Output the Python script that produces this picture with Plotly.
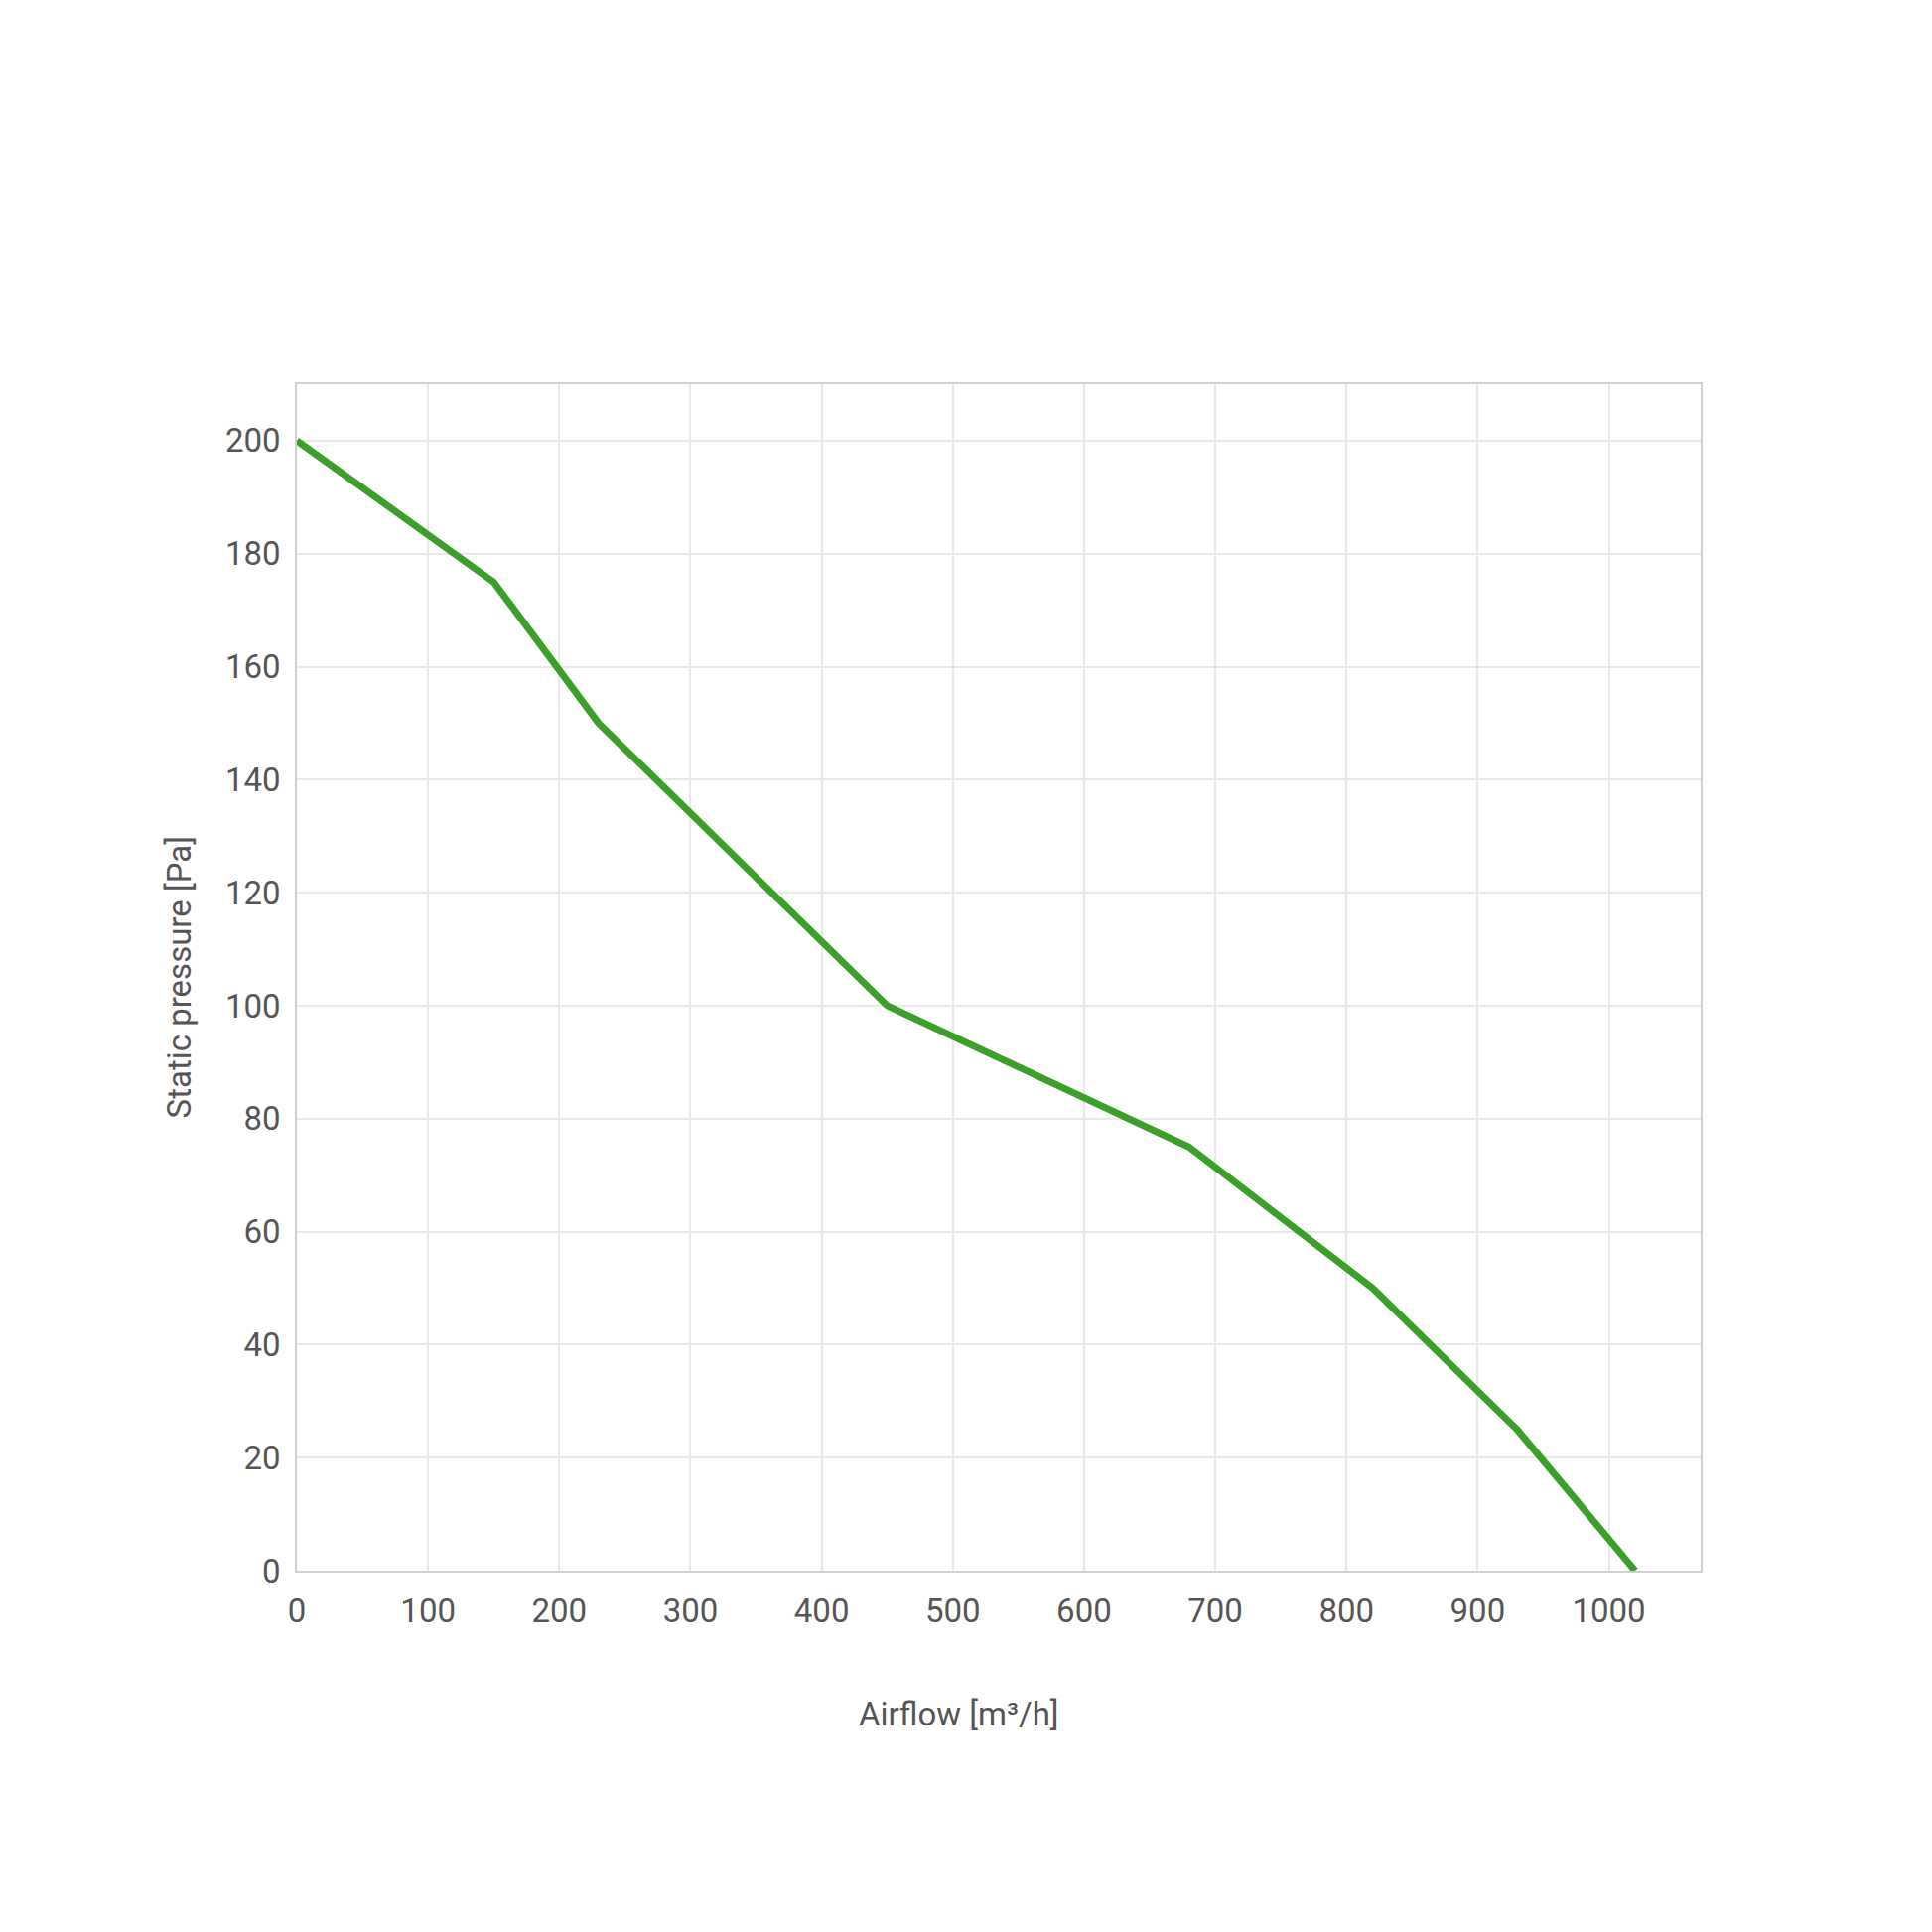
import plotly.graph_objects as go

airflow = [0, 150, 230, 450, 680, 820, 930, 1020]
pressure = [200, 175, 150, 100, 75, 50, 25, 0]

x_ticks = [0, 100, 200, 300, 400, 500, 600, 700, 800, 900, 1000]
y_ticks = [0, 20, 40, 60, 80, 100, 120, 140, 160, 180, 200]

fig = go.Figure()
fig.add_trace(go.Scatter(
    x=airflow, y=pressure, mode="lines",
    line=dict(color="#3c9f2a", width=7),
    showlegend=False,
))

font_family = "Roboto, 'Liberation Sans Narrow', sans-serif"

fig.update_layout(
    width=1946, height=1946,
    paper_bgcolor="white", plot_bgcolor="white",
    margin=dict(l=291, r=241, t=379, b=372),
    font=dict(family=font_family, size=33, color="#555555"),
    xaxis=dict(
        range=[0, 1070], tickvals=x_ticks, ticktext=[str(v) for v in x_ticks],
        showgrid=True, gridcolor="#e8e8e8", gridwidth=2,
        showline=True, linecolor="#d0d0d0", linewidth=1.5, mirror=True,
        zeroline=False, ticks="", ticklabelstandoff=11,
    ),
    yaxis=dict(
        range=[0, 210], tickvals=y_ticks, ticktext=[str(v) for v in y_ticks],
        showgrid=True, gridcolor="#e8e8e8", gridwidth=2,
        showline=True, linecolor="#d0d0d0", linewidth=1.5, mirror=True,
        zeroline=False, ticks="", ticklabelstandoff=8,
    ),
    annotations=[
        dict(text="Airflow [m³/h]", xref="paper", yref="paper",
             x=0.4717, y=-0.1213, xanchor="center", yanchor="middle",
             showarrow=False, font=dict(size=33, color="#555555")),
        dict(text="Static pressure [Pa]", xref="paper", yref="paper",
             x=-0.0835, y=0.5, xanchor="center", yanchor="middle",
             textangle=-90, showarrow=False, font=dict(size=33, color="#555555")),
    ],
)

fig.write_html("out.html")
